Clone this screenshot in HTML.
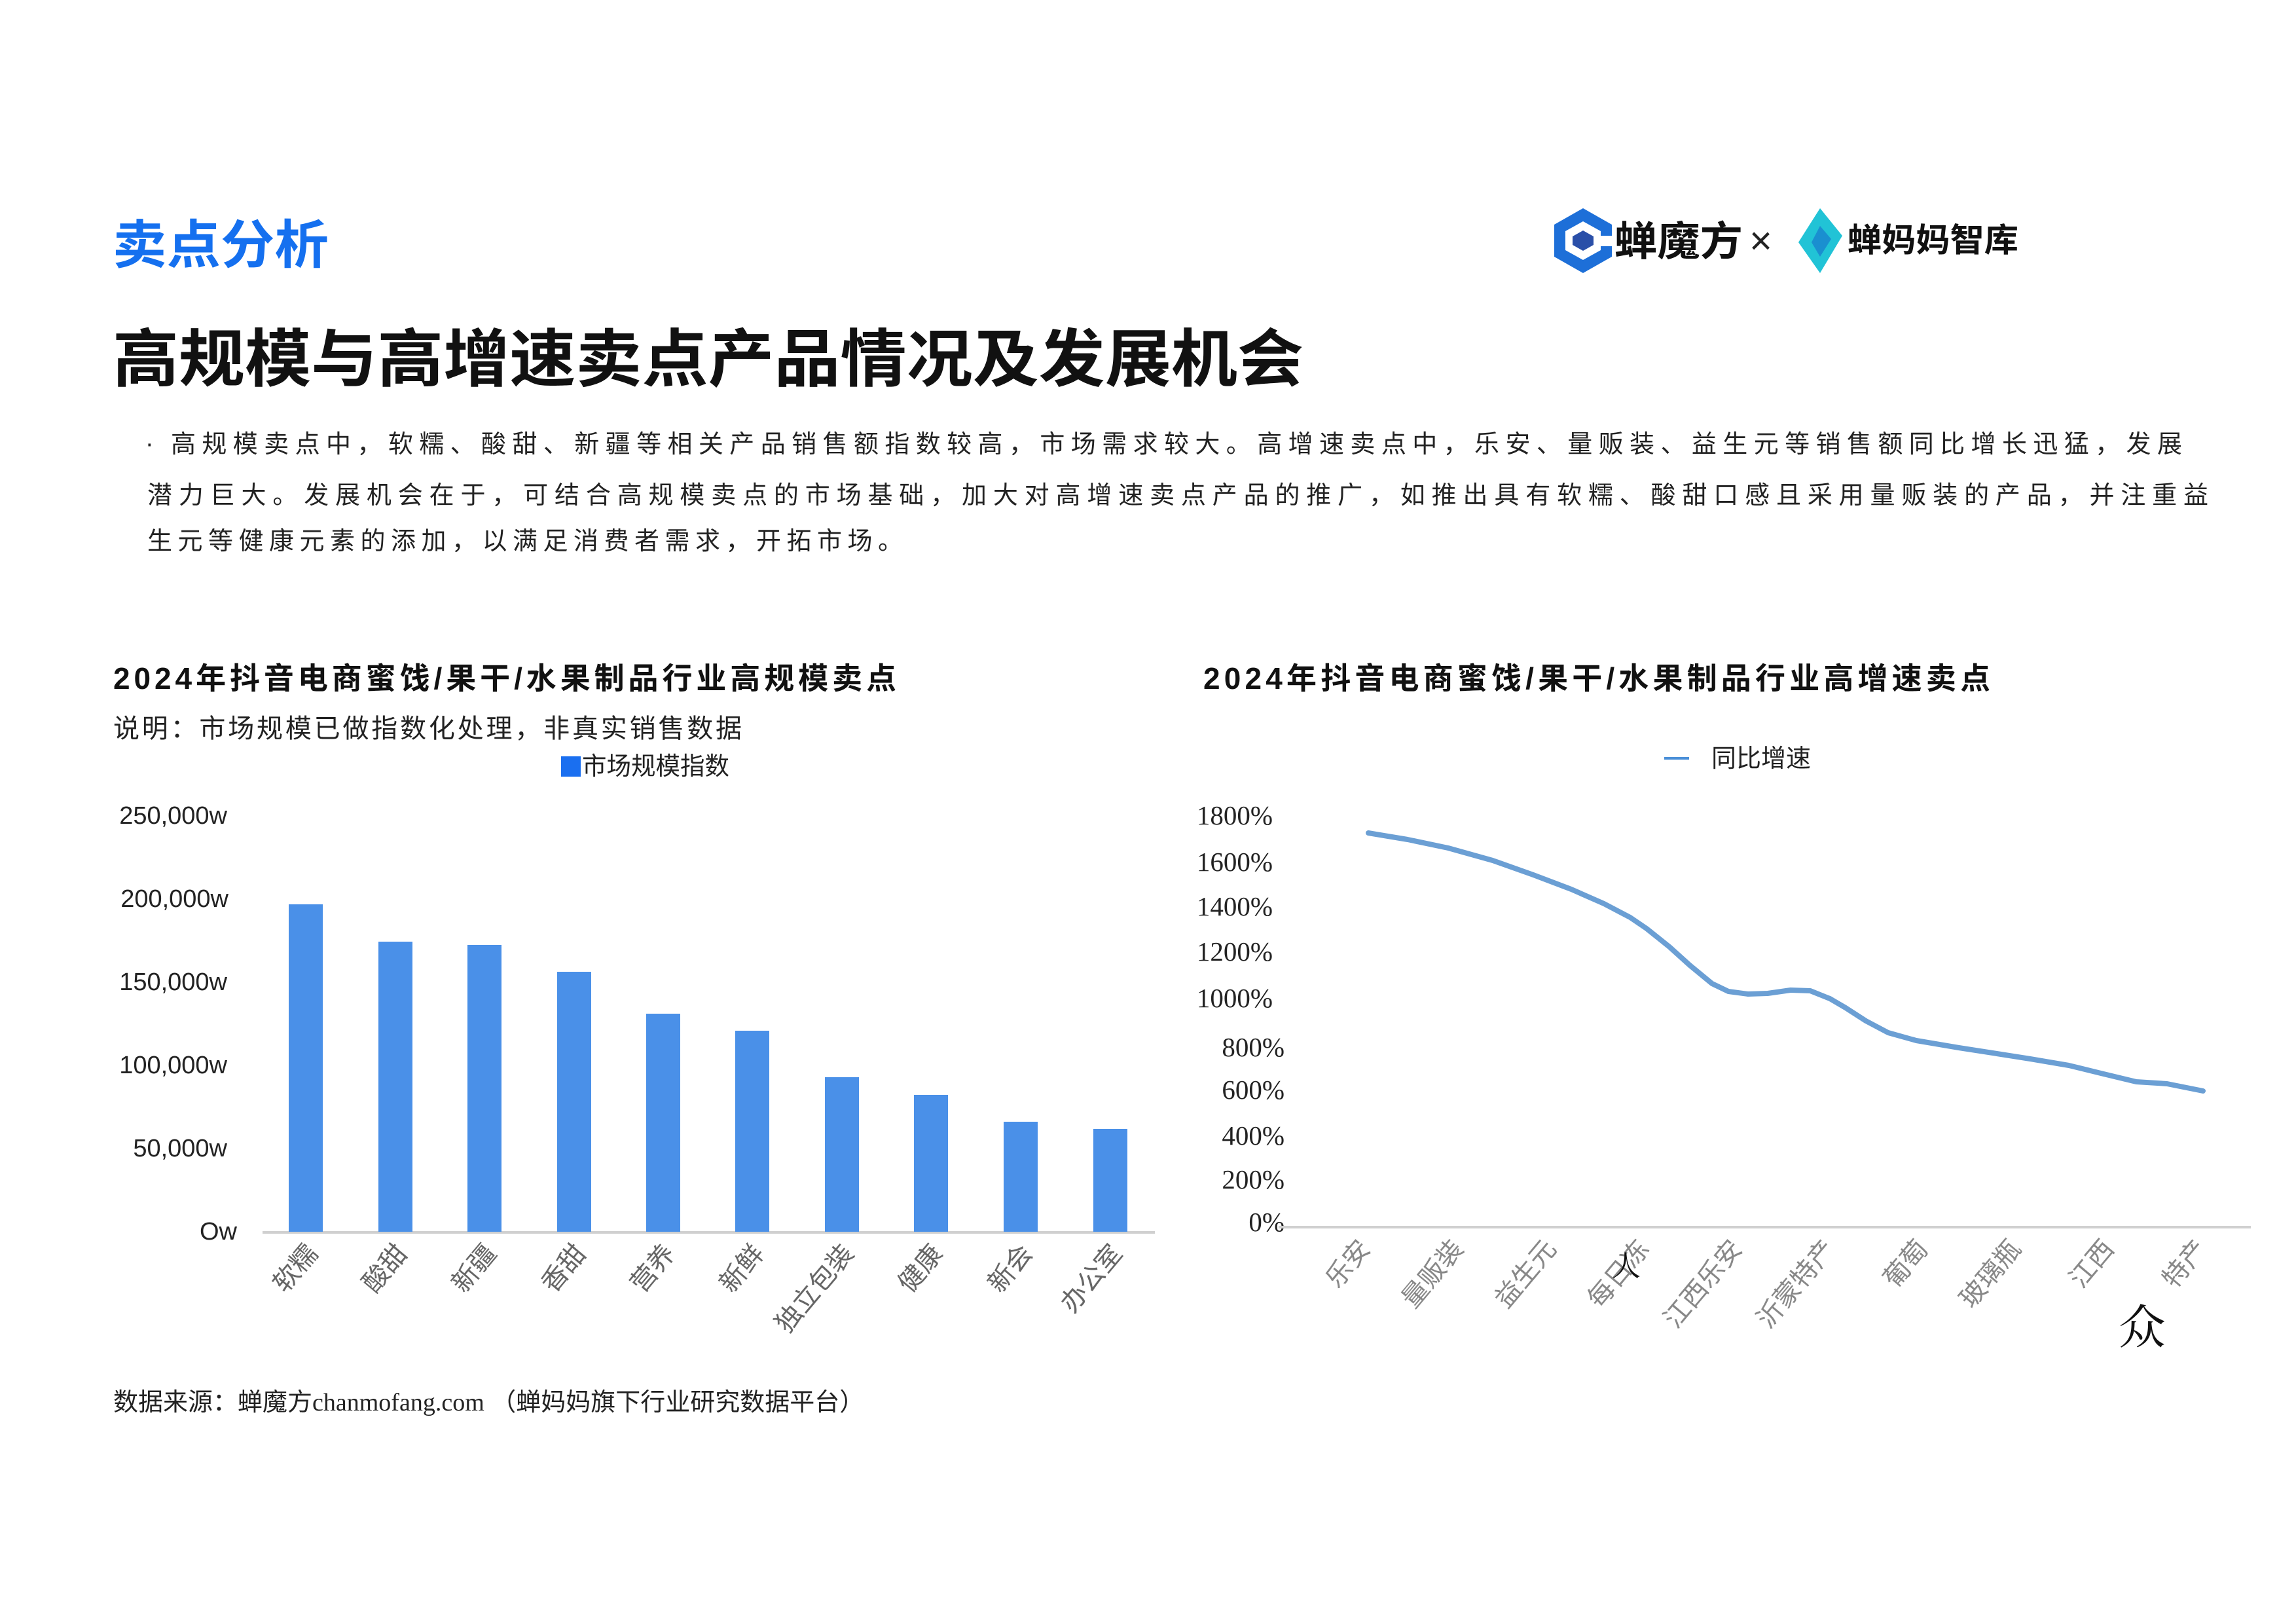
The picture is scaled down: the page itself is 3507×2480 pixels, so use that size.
<!DOCTYPE html>
<html><head><meta charset="utf-8"><style>
html,body{margin:0;padding:0;background:#fff;}
svg{display:block;}
text{font-family:"Liberation Sans","Noto Sans CJK SC",sans-serif;}
text.serif{font-family:"Liberation Serif","Noto Serif CJK SC",serif;}
text.cjkserif{font-family:"Noto Serif CJK SC",serif;}
</style></head><body>
<svg width="3507" height="2480" viewBox="0 0 3507 2480" xmlns="http://www.w3.org/2000/svg">
<rect width="3507" height="2480" fill="#fff"/>
<text x="172" y="402" font-size="80" font-weight="bold" fill="#1570EF" textLength="330" lengthAdjust="spacingAndGlyphs">卖点分析</text>
<polygon points="2418,318 2462,343 2462,392 2418,417 2374,392 2374,343" fill="#1d6fd8"/>
<polygon points="2418,338 2445,353 2445,382 2418,397 2391,382 2391,353" fill="#fff"/>
<polygon points="2418,352 2434,361 2434,374 2418,383 2402,374 2402,361" fill="#2a4fa8"/>
<rect x="2435" y="360" width="30" height="16" fill="#fff"/>
<text x="2466" y="390" font-size="62" font-weight="bold" fill="#111" textLength="196" lengthAdjust="spacingAndGlyphs">蝉魔方</text>
<text x="2672" y="388" font-size="60" fill="#222">×</text>
<polygon points="2780,318 2814,360 2780,417 2747,370" fill="#21c3d6"/>
<polygon points="2780,345 2797,365 2780,392 2767,370" fill="#1a8fd0"/>
<text x="2822" y="384" font-size="50" font-weight="bold" fill="#111" textLength="261" lengthAdjust="spacingAndGlyphs">蝉妈妈智库</text>
<text x="172" y="582" font-size="96" font-weight="bold" fill="#111" textLength="1819" lengthAdjust="spacingAndGlyphs">高规模与高增速卖点产品情况及发展机会</text>
<text x="222" y="690" font-size="38" fill="#222">·</text>
<text x="261" y="691" font-size="38" fill="#222" textLength="3072" lengthAdjust="spacing">高规模卖点中，软糯、酸甜、新疆等相关产品销售额指数较高，市场需求较大。高增速卖点中，乐安、量贩装、益生元等销售额同比增长迅猛，发展</text>
<text x="225" y="769" font-size="38" fill="#222" textLength="3148" lengthAdjust="spacing">潜力巨大。发展机会在于，可结合高规模卖点的市场基础，加大对高增速卖点产品的推广，如推出具有软糯、酸甜口感且采用量贩装的产品，并注重益</text>
<text x="225" y="839" font-size="38" fill="#222" textLength="1154" lengthAdjust="spacing">生元等健康元素的添加，以满足消费者需求，开拓市场。</text>

<text x="173" y="1052" font-size="46" font-weight="bold" fill="#111" textLength="1196" lengthAdjust="spacing">2024年抖音电商蜜饯/果干/水果制品行业高规模卖点</text>
<text x="173" y="1126" font-size="40" fill="#222" textLength="960" lengthAdjust="spacing">说明：市场规模已做指数化处理，非真实销售数据</text>
<rect x="857" y="1155" width="30" height="31" fill="#1a6ff0"/>
<text x="889" y="1183" font-size="38" fill="#222" textLength="225" lengthAdjust="spacingAndGlyphs">市场规模指数</text>
<g font-size="38" fill="#222" text-anchor="end">
<text x="347" y="1258">250,000w</text>
<text x="349" y="1385">200,000w</text>
<text x="347" y="1512">150,000w</text>
<text x="347" y="1639">100,000w</text>
<text x="347" y="1766">50,000w</text>
<text x="362" y="1893">Ow</text>
</g>
<line x1="401" y1="1882" x2="1764" y2="1882" stroke="#d0d0d0" stroke-width="4"/>
<g fill="#4a90e8">
<rect x="441" y="1381" width="52" height="500"/>
<rect x="578" y="1438" width="52" height="443"/>
<rect x="714" y="1443" width="52" height="438"/>
<rect x="851" y="1484" width="52" height="397"/>
<rect x="987" y="1548" width="52" height="333"/>
<rect x="1123" y="1574" width="52" height="307"/>
<rect x="1260" y="1645" width="52" height="236"/>
<rect x="1396" y="1672" width="52" height="209"/>
<rect x="1533" y="1713" width="52" height="168"/>
<rect x="1670" y="1724" width="52" height="157"/>
</g>
<g font-size="40" fill="#666" text-anchor="end">
<text transform="translate(487,1915) rotate(-50)">软糯</text>
<text transform="translate(624,1915) rotate(-50)">酸甜</text>
<text transform="translate(760,1915) rotate(-50)">新疆</text>
<text transform="translate(897,1915) rotate(-50)">香甜</text>
<text transform="translate(1033,1915) rotate(-50)">营养</text>
<text transform="translate(1169,1915) rotate(-50)">新鲜</text>
<text transform="translate(1306,1915) rotate(-50)">独立包装</text>
<text transform="translate(1442,1915) rotate(-50)">健康</text>
<text transform="translate(1579,1915) rotate(-50)">新会</text>
<text transform="translate(1716,1915) rotate(-50)">办公室</text>
</g>
<text x="173" y="2154" font-size="38" fill="#222">数据来源：蝉魔方<tspan class="serif" style="font-family:'Liberation Serif',serif">chanmofang.com</tspan> （蝉妈妈旗下行业研究数据平台）</text>

<text x="1838" y="1052" font-size="46" font-weight="bold" fill="#111" textLength="1202" lengthAdjust="spacing">2024年抖音电商蜜饯/果干/水果制品行业高增速卖点</text>
<line x1="2542" y1="1158" x2="2580" y2="1158" stroke="#4a8fd8" stroke-width="4"/>
<text x="2614" y="1171" font-size="38" fill="#222">同比增速</text>
<g font-size="41" fill="#222" text-anchor="end">
<text class="serif" x="1944" y="1259">1800%</text>
<text class="serif" x="1944" y="1330">1600%</text>
<text class="serif" x="1944" y="1398">1400%</text>
<text class="serif" x="1944" y="1467">1200%</text>
<text class="serif" x="1944" y="1538">1000%</text>
<text class="serif" x="1962" y="1613">800%</text>
<text class="serif" x="1962" y="1678">600%</text>
<text class="serif" x="1962" y="1748">400%</text>
<text class="serif" x="1962" y="1815">200%</text>
<text class="serif" x="1962" y="1880">0%</text>
</g>
<line x1="1953" y1="1874" x2="3438" y2="1874" stroke="#d0d0d0" stroke-width="4"/>
<polyline fill="none" stroke="#6b9fd4" stroke-width="8" stroke-linejoin="round" stroke-linecap="round"
points="2090,1272 2150,1282 2212,1295 2280,1314 2342,1336 2400,1358 2450,1380 2490,1401 2515,1418 2550,1446 2581,1474 2615,1502 2640,1514 2670,1518 2700,1517 2735,1512 2765,1513 2795,1525 2819,1539 2850,1559 2884,1577 2927,1589 2992,1600 3050,1609 3101,1617 3160,1627 3209,1639 3263,1652 3310,1655 3365,1666"/>
<g font-size="40" fill="#888" text-anchor="end">
<text transform="translate(2095,1908) rotate(-50)">乐安</text>
<text transform="translate(2237,1908) rotate(-50)">量贩装</text>
<text transform="translate(2379,1908) rotate(-50)">益生元</text>
<text transform="translate(2521,1908) rotate(-50)">每日冻</text>
<text transform="translate(2663,1908) rotate(-50)">江西乐安</text>
<text transform="translate(2805,1908) rotate(-50)">沂蒙特产</text>
<text transform="translate(2947,1908) rotate(-50)">葡萄</text>
<text transform="translate(3089,1908) rotate(-50)">玻璃瓶</text>
<text transform="translate(3231,1908) rotate(-50)">江西</text>
<text transform="translate(3373,1908) rotate(-50)">特产</text>
</g>
<text class="cjkserif" x="2462" y="1948" font-size="44" fill="#111">人</text>
<text class="cjkserif" x="3236" y="2052" font-size="72" fill="#111">众</text>
</svg>
</body></html>
